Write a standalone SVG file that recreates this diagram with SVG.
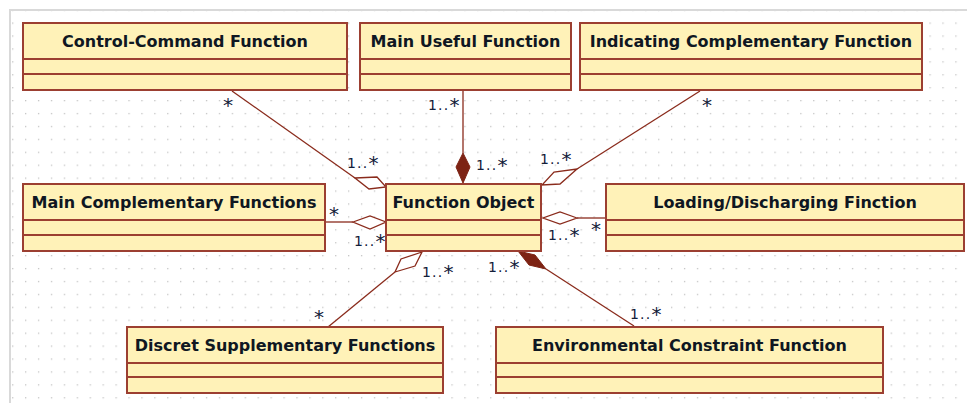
<svg xmlns="http://www.w3.org/2000/svg" width="967" height="403" viewBox="0 0 967 403">
<defs>
<pattern id="grid" x="12.1" y="9.56" width="12.92" height="12.92" patternUnits="userSpaceOnUse">
<rect x="0" y="0" width="1.3" height="1.3" fill="#c4c4c4"/>
</pattern>
</defs>
<style>
.box{fill:#fff2b8;stroke:#9c3f31;stroke-width:2}
.div{stroke:#9c3f31;stroke-width:2}
.title{font-family:"DejaVu Sans",Verdana,sans-serif;font-weight:bold;font-size:16px;fill:#0f1722;text-anchor:middle}
.conn{stroke:#8a2b1c;stroke-width:1.3;fill:none}
.hollow{fill:#ffffff;stroke:#8a2b1c;stroke-width:1.3}
.filled{fill:#7d2314;stroke:#7d2314;stroke-width:1}
.mult{font-family:"DejaVu Sans",Verdana,sans-serif;font-size:14px;fill:#13203a;letter-spacing:1.2px}
.st{font-size:20px}
</style>
<rect x="0" y="0" width="967" height="403" fill="#ffffff"/>
<rect x="11" y="11" width="956" height="392" fill="url(#grid)"/>
<path d="M10,403 V10 H967" fill="none" stroke="#d9d9d9" stroke-width="2"/>

<g id="connectors">
<g id="c-control">
<line class="conn" x1="232" y1="91" x2="355" y2="178"/>
<polygon class="hollow" points="355,178 377,177 386,187 369,189"/>
</g>
<g id="c-mainuseful">
<line class="conn" x1="463" y1="91" x2="463" y2="153"/>
<polygon class="filled" points="463,153 470,167 463,183 456,167"/>
</g>
<g id="c-indicating">
<line class="conn" x1="700" y1="91" x2="577" y2="169"/>
<polygon class="hollow" points="577,169 560,184 542,185 554,172"/>
</g>
<g id="c-maincomp">
<line class="conn" x1="326" y1="222" x2="353" y2="222"/>
<polygon class="hollow" points="353,222 370,216 386,222 370,229"/>
</g>
<g id="c-loading">
<line class="conn" x1="577" y1="218" x2="605" y2="218"/>
<polygon class="hollow" points="577,218 560,212 543,218 560,224"/>
</g>
<g id="c-discret">
<line class="conn" x1="395" y1="272" x2="328" y2="327"/>
<polygon class="hollow" points="395,272 415,266 422,252 401,259"/>
</g>
<g id="c-environmental">
<line class="conn" x1="546" y1="269" x2="634" y2="326"/>
<polygon class="filled" points="518,251 535,255 546,269 529,265"/>
</g>
<text class="mult st" x="223" y="112">*</text>
<text class="mult" x="347" y="168">1..<tspan class="st" dy="2">*</tspan></text>
<text class="mult" x="428" y="110">1..<tspan class="st" dy="2">*</tspan></text>
<text class="mult" x="476" y="170">1..<tspan class="st" dy="2">*</tspan></text>
<text class="mult" x="540" y="164">1..<tspan class="st" dy="2">*</tspan></text>
<text class="mult st" x="702" y="112">*</text>
<text class="mult st" x="329" y="221">*</text>
<text class="mult" x="354" y="246">1..<tspan class="st" dy="2">*</tspan></text>
<text class="mult" x="548" y="240">1..<tspan class="st" dy="2">*</tspan></text>
<text class="mult st" x="591" y="236">*</text>
<text class="mult" x="422" y="277">1..<tspan class="st" dy="2">*</tspan></text>
<text class="mult st" x="314" y="324">*</text>
<text class="mult" x="488" y="272">1..<tspan class="st" dy="2">*</tspan></text>
<text class="mult" x="630" y="319">1..<tspan class="st" dy="2">*</tspan></text>
</g>

<g id="control-command">
<rect class="box" x="23" y="23" width="324" height="67"/>
<line class="div" x1="23" y1="59" x2="347" y2="59"/>
<line class="div" x1="23" y1="74" x2="347" y2="74"/>
<text class="title" x="185" y="47">Control-Command Function</text>
</g>
<g id="main-useful">
<rect class="box" x="360" y="23" width="211" height="67"/>
<line class="div" x1="360" y1="59" x2="571" y2="59"/>
<line class="div" x1="360" y1="74" x2="571" y2="74"/>
<text class="title" x="465.5" y="47">Main Useful Function</text>
</g>
<g id="indicating">
<rect class="box" x="580" y="23" width="342" height="67"/>
<line class="div" x1="580" y1="59" x2="922" y2="59"/>
<line class="div" x1="580" y1="74" x2="922" y2="74"/>
<text class="title" x="751" y="47">Indicating Complementary Function</text>
</g>
<g id="main-complementary">
<rect class="box" x="23" y="184" width="302" height="67"/>
<line class="div" x1="23" y1="220" x2="325" y2="220"/>
<line class="div" x1="23" y1="235" x2="325" y2="235"/>
<text class="title" x="174" y="208">Main Complementary Functions</text>
</g>
<g id="function-object">
<rect class="box" x="386" y="184" width="155" height="67"/>
<line class="div" x1="386" y1="220" x2="541" y2="220"/>
<line class="div" x1="386" y1="235" x2="541" y2="235"/>
<text class="title" x="463.5" y="208">Function Object</text>
</g>
<g id="loading">
<rect class="box" x="606" y="184" width="358" height="67"/>
<line class="div" x1="606" y1="220" x2="964" y2="220"/>
<line class="div" x1="606" y1="235" x2="964" y2="235"/>
<text class="title" x="785" y="208">Loading/Discharging Finction</text>
</g>
<g id="discret">
<rect class="box" x="127" y="327" width="316" height="66"/>
<line class="div" x1="127" y1="363" x2="443" y2="363"/>
<line class="div" x1="127" y1="377" x2="443" y2="377"/>
<text class="title" x="285" y="351">Discret Supplementary Functions</text>
</g>
<g id="environmental">
<rect class="box" x="496" y="327" width="387" height="66"/>
<line class="div" x1="496" y1="363" x2="883" y2="363"/>
<line class="div" x1="496" y1="377" x2="883" y2="377"/>
<text class="title" x="689.5" y="351">Environmental Constraint Function</text>
</g>
</svg>
